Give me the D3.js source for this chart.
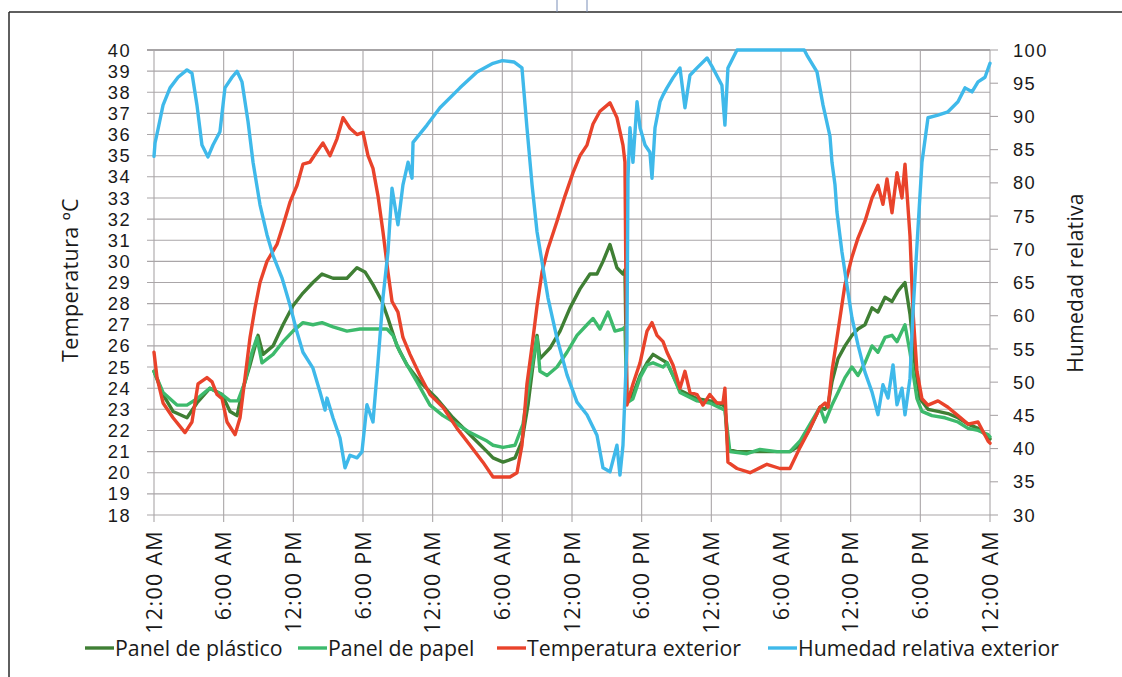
<!DOCTYPE html>
<html><head><meta charset="utf-8">
<script src="https://cdn.jsdelivr.net/npm/d3@7"></script>
<style>
html,body{margin:0;padding:0;background:#fff;}
svg{display:block;font-family:"Open Sans",sans-serif;}
</style></head>
<body><svg id="c" width="1122" height="677"></svg>
<script>
// ---- data (hour since start, value) ----
const xTickHours = [0,6,12,18,24,30,36,42,48,54,60,66,72];
const xTickLabels = ["12:00 AM","6:00 AM","12:00 PM","6:00 PM","12:00 AM","6:00 AM","12:00 PM","6:00 PM","12:00 AM","6:00 AM","12:00 PM","6:00 PM","12:00 AM"];
const tempTicks = d3.range(18, 41, 1);
const humTicks = d3.range(30, 101, 5);
const seriesNames = ["Panel de plástico","Panel de papel","Temperatura exterior","Humedad relativa exterior"];
const seriesColors = ["#3f7f34","#3dba6c","#e9432b","#3fb9ea"];

const panelPlastico = [[0,24.8],[0.78,23.7],[1.64,22.9],[2.84,22.6],[3.70,23.3],[4.82,24],[5.86,23.7],[6.55,22.9],[7.15,22.7],[7.67,24],[8.27,25.1],[8.96,26.5],[9.39,25.6],[10.25,26],[11.11,27],[11.97,27.9],[12.83,28.5],[13.69,29],[14.47,29.4],[15.42,29.2],[16.62,29.2],[17.48,29.7],[18.17,29.5],[18.86,28.9],[19.64,28.1],[20.15,27.3],[20.93,26],[21.79,25.1],[22.91,24.3],[24.37,23.5],[25.75,22.6],[27.22,21.8],[28.68,21],[29.2,20.7],[30.06,20.5],[31.09,20.7],[31.69,21.5],[32.21,23.2],[32.64,25.1],[32.99,26.5],[33.24,25.4],[34.11,25.9],[34.97,26.7],[35.83,27.8],[36.69,28.7],[37.55,29.4],[38.15,29.4],[38.67,30],[39.27,30.8],[39.87,29.7],[40.39,29.4],[40.56,29.6],[40.73,23.3],[41.25,23.7],[41.86,24.6],[42.46,25.2],[42.98,25.6],[43.58,25.4],[44.18,25.2],[45.30,23.9],[46.77,23.5],[47.87,23.4],[49.0,23.2],[49.17,23.1],[49.43,21.1],[50.21,21.0],[52.19,21.0],[53.91,21.0],[54.77,21.0],[55.64,21.3],[56.50,22.1],[57.36,23.1],[57.79,23.0],[58.05,23.2],[58.39,24.3],[58.91,25.4],[59.51,26],[60.11,26.5],[60.63,26.8],[61.23,27],[61.84,27.8],[62.35,27.6],[62.96,28.3],[63.56,28.1],[64.08,28.6],[64.68,29],[65.11,27.5],[65.54,25.1],[65.97,23.5],[66.66,23],[67.52,22.9],[68.38,22.8],[69.24,22.6],[70.11,22.3],[70.97,22.1],[71.83,21.7],[72,21.6]];

const panelPapel = [[0,24.8],[0.78,23.8],[1.98,23.2],[2.84,23.2],[3.70,23.5],[4.82,24],[5.86,23.7],[6.55,23.4],[7.23,23.4],[7.84,24.3],[8.44,25.7],[8.87,26.4],[9.30,25.2],[10.25,25.6],[11.11,26.2],[11.97,26.7],[12.83,27.1],[13.69,27],[14.47,27.1],[15.42,26.9],[16.62,26.7],[17.74,26.8],[18.86,26.8],[20.07,26.8],[20.58,26.5],[21.19,25.7],[21.79,25.1],[22.65,24.3],[23.77,23.2],[24.89,22.7],[26.10,22.3],[27.22,21.9],[28.68,21.5],[29.2,21.3],[30.06,21.2],[31.09,21.3],[31.78,22.3],[32.38,24.5],[32.99,26.4],[33.24,24.8],[33.85,24.6],[34.71,25],[35.57,25.7],[36.43,26.5],[37.29,27],[37.81,27.3],[38.41,26.8],[39.10,27.6],[39.70,26.7],[40.39,26.8],[40.56,26.9],[40.73,23.3],[41.25,23.5],[41.86,24.5],[42.46,25.1],[42.98,25.2],[43.84,25],[44.18,25.2],[44.70,24.6],[45.30,23.8],[46.77,23.4],[47.87,23.3],[49.0,23],[49.17,23.0],[49.60,21],[51.07,20.9],[52.19,21.1],[53.66,21],[54.77,21],[55.64,21.5],[56.50,22.3],[57.36,23.1],[57.79,22.4],[58.39,23.2],[58.91,23.8],[59.51,24.5],[60.11,25],[60.63,24.6],[61.23,25.2],[61.84,26],[62.35,25.7],[62.96,26.4],[63.56,26.5],[63.99,26.2],[64.68,27],[65.11,25.7],[65.71,23.5],[66.14,22.9],[67.0,22.7],[68.12,22.6],[69.24,22.4],[70.11,22.1],[70.97,22],[71.83,21.8],[72,21.7]];

const tempExterior = [[0,25.7],[0.26,24.5],[0.78,23.3],[1.64,22.6],[2.67,21.9],[3.27,22.4],[3.79,24.2],[4.56,24.5],[5.0,24.3],[5.43,23.7],[5.86,23.5],[6.29,22.4],[6.98,21.8],[7.41,22.6],[7.84,24.5],[8.27,26.4],[8.70,27.8],[9.13,29],[9.73,30],[10.59,30.8],[11.11,31.7],[11.71,32.8],[12.32,33.6],[12.83,34.6],[13.44,34.7],[14.04,35.2],[14.55,35.6],[15.16,35],[15.76,35.8],[16.28,36.8],[16.88,36.3],[17.48,36],[18.0,36.1],[18.43,35],[18.86,34.4],[19.29,33.1],[19.72,31.4],[20.15,29.5],[20.5,28.1],[21.01,27.6],[21.44,26.4],[22.05,25.6],[22.91,24.6],[23.77,23.7],[24.89,23.1],[26.10,22.1],[27.22,21.3],[28.33,20.5],[29.2,19.8],[29.8,19.8],[30.66,19.8],[31.26,20],[31.69,21.3],[32.12,24.2],[32.56,26],[32.99,27.9],[33.42,29.5],[33.93,30.6],[34.71,31.9],[35.40,33.1],[36.09,34.2],[36.69,35],[37.29,35.5],[37.81,36.5],[38.41,37.1],[39.27,37.5],[39.87,36.8],[40.39,35.5],[40.56,34.7],[40.73,23.2],[41.25,24.2],[41.86,25.2],[42.46,26.7],[42.89,27.1],[43.32,26.5],[43.84,26.2],[44.18,25.7],[44.70,25.1],[45.30,24],[45.73,24.8],[46.16,23.8],[46.77,23.7],[47.28,23.2],[47.87,23.7],[48.48,23.3],[49.0,23.3],[49.17,24.0],[49.43,20.5],[50.21,20.2],[51.33,20],[52.79,20.4],[53.91,20.2],[54.77,20.2],[55.64,21.2],[56.50,22.1],[57.36,23.1],[57.79,23.3],[58.05,23.1],[58.39,24.8],[58.91,26.7],[59.51,28.9],[60.11,30.2],[60.63,31.1],[61.23,31.9],[61.84,33],[62.35,33.6],[62.78,32.7],[63.13,33.9],[63.56,32.3],[63.99,34.2],[64.42,33],[64.68,34.6],[65.11,31.2],[65.37,27.6],[65.71,24.8],[66.14,23.5],[66.66,23.2],[67.52,23.4],[68.38,23.1],[69.24,22.7],[70.11,22.3],[70.97,22.4],[71.83,21.5],[72,21.4]];

const humedad = [[0,84],[0.09,86],[0.34,88],[0.78,91.7],[1.38,94.3],[2.07,95.9],[2.84,97],[3.27,96.5],[3.70,91.7],[4.13,85.7],[4.65,83.9],[5.08,85.7],[5.68,87.7],[6.11,94.3],[6.72,95.9],[7.15,96.8],[7.58,95.2],[8.10,89.2],[8.53,83.1],[9.13,76.7],[9.73,72.2],[10.25,69.1],[11.02,65.7],[11.71,61.6],[12.32,57.5],[12.83,54.5],[13.69,52.1],[14.30,48.5],[14.73,45.8],[14.90,47.6],[15.42,44.6],[16.02,41.6],[16.45,37.1],[16.88,39],[17.48,38.6],[17.91,39.5],[18.34,46.6],[18.86,44],[19.29,53],[19.72,62.7],[20.15,69.6],[20.5,79.2],[21.01,73.7],[21.44,79.7],[21.88,83.1],[22.22,80.7],[22.31,86.1],[23.51,88.7],[24.63,91.3],[26.35,94.3],[27.82,96.7],[29.2,98],[30.0,98.4],[31.0,98.2],[31.69,97.3],[32.12,88.3],[32.56,79.7],[32.99,72.6],[33.42,68.1],[33.93,62.7],[34.71,56.6],[35.57,51.1],[36.43,47],[37.29,45.1],[38.15,42],[38.67,37.1],[39.27,36.5],[39.87,40.5],[40.13,36],[40.39,40.5],[40.73,55.6],[40.82,80.7],[40.99,88.3],[41.25,83.1],[41.60,92.2],[41.86,88.3],[42.29,85.7],[42.71,84.6],[42.89,80.7],[43.15,88.3],[43.58,92.2],[43.84,93.2],[44.18,94.3],[44.70,95.8],[45.30,97.3],[45.73,91.3],[46.16,96.2],[46.77,97.3],[47.63,98.8],[48.13,97.3],[48.91,94.7],[49.17,88.7],[49.43,97.3],[50.21,100],[56.0,100],[56.24,99.2],[57.10,96.7],[57.62,91.7],[58.22,87],[58.39,83.1],[58.65,79.7],[58.82,75.6],[59.25,69.6],[59.68,64.6],[60.11,59.7],[60.63,55.6],[61.23,51.5],[61.84,48.5],[62.35,45.1],[62.78,49.6],[63.22,47.6],[63.65,52.6],[63.99,46.6],[64.42,49.1],[64.68,45.1],[65.11,50.6],[65.37,60.6],[65.71,70.6],[66.14,83.1],[66.66,89.8],[67.52,90.2],[68.38,90.7],[69.24,92.2],[69.85,94.3],[70.45,93.7],[70.97,95.2],[71.57,95.9],[72,98]];

// ---- layout ----
const svg = d3.select("#c");
const L = 154, R = 990, T = 50, B = 515;
const x = d3.scaleLinear().domain([0,72]).range([L,R]);
const yT = d3.scaleLinear().domain([18,40]).range([B,T]);
const yH = d3.scaleLinear().domain([30,100]).range([B,T]);
const grid = "#aaa6a8", txt = "#1a1a1a";
const numFont = "'Liberation Sans',Arial,sans-serif";

// frame
svg.append("line").attr("x1",9).attr("x2",1122).attr("y1",12).attr("y2",12).attr("stroke","#2a2a2a").attr("stroke-width",1.5);
svg.append("line").attr("x1",9).attr("x2",9).attr("y1",12).attr("y2",677).attr("stroke","#2a2a2a").attr("stroke-width",1.5);
[557,587].forEach(v=>svg.append("line").attr("x1",v).attr("x2",v).attr("y1",0).attr("y2",12).attr("stroke","#7a8fb8").attr("stroke-width",1));

// gridlines
const g = svg.append("g");
g.selectAll(".hg").data(tempTicks).join("line")
  .attr("x1",L-7).attr("x2",R).attr("y1",d=>yT(d)).attr("y2",d=>yT(d))
  .attr("stroke",d=>d===40?"#8a8688":grid).attr("stroke-width",d=>d===40?1.6:1.1);
g.selectAll(".vg").data(xTickHours).join("line")
  .attr("x1",d=>x(d)).attr("x2",d=>x(d)).attr("y1",T).attr("y2",B+7)
  .attr("stroke",grid).attr("stroke-width",1.1);
g.selectAll(".rt").data(humTicks).join("line")
  .attr("x1",R).attr("x2",R+8).attr("y1",d=>yH(d)).attr("y2",d=>yH(d))
  .attr("stroke",grid).attr("stroke-width",1.1);

// axis labels
svg.append("g").selectAll("text").data(tempTicks).join("text")
  .attr("x",131).attr("y",d=>yT(d)).attr("dy","0.36em").attr("text-anchor","end")
  .attr("font-family",numFont).attr("font-size",18.3).attr("letter-spacing",1.4)
  .attr("fill",txt).text(d=>d);
svg.append("g").selectAll("text").data(humTicks).join("text")
  .attr("x",1013).attr("y",d=>yH(d)).attr("dy","0.36em").attr("text-anchor","start")
  .attr("font-family",numFont).attr("font-size",18.3).attr("letter-spacing",1.4)
  .attr("fill",txt).text(d=>d);
svg.append("g").selectAll("text").data(xTickHours).join("text")
  .attr("transform",d=>`translate(${x(d)},530) rotate(-90)`).attr("dy","0.36em").attr("text-anchor","end")
  .attr("font-size",21.5).attr("letter-spacing",1.3).attr("fill",txt).text((d,i)=>xTickLabels[i]);

svg.append("text").attr("transform","translate(70,280) rotate(-90)").attr("dy","0.36em")
  .attr("text-anchor","middle").attr("font-size",21.5).attr("letter-spacing",0.4).attr("fill",txt).text("Temperatura ºC");
svg.append("text").attr("transform","translate(1075,283) rotate(-90)").attr("dy","0.36em")
  .attr("text-anchor","middle").attr("font-size",21).attr("letter-spacing",0.3).attr("fill",txt).text("Humedad relativa");

// series
const lineT = d3.line().x(d=>x(d[0])).y(d=>yT(d[1]));
const lineH = d3.line().x(d=>x(d[0])).y(d=>yH(d[1]));
const series = [
  {data:panelPlastico, gen:lineT},
  {data:panelPapel, gen:lineT},
  {data:tempExterior, gen:lineT},
  {data:humedad, gen:lineH}
];
svg.append("g").selectAll("path").data(series).join("path")
  .attr("d",s=>s.gen(s.data)).attr("fill","none")
  .attr("stroke",(s,i)=>seriesColors[i]).attr("stroke-width",3.4)
  .attr("stroke-linejoin","round").attr("stroke-linecap","round");

// legend
const legX = [85,298,497,768];
const lg = svg.append("g").selectAll("g").data(seriesNames).join("g")
  .attr("transform",(d,i)=>`translate(${legX[i]},648)`);
lg.append("line").attr("x1",0).attr("x2",29).attr("y1",0).attr("y2",0)
  .attr("stroke",(d,i)=>seriesColors[i]).attr("stroke-width",3.4);
lg.append("text").attr("x",30).attr("dy","0.36em").attr("font-size",21.3).attr("fill",txt).text(d=>d);
</script>
</body></html>
